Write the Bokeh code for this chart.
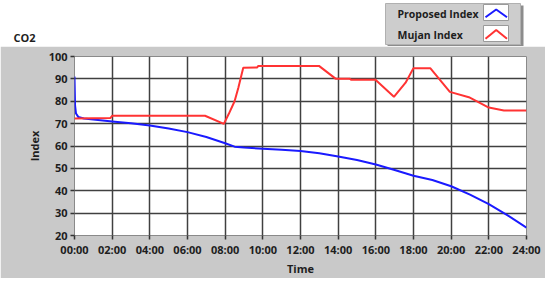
from bokeh.plotting import figure
from bokeh.models import Range1d, FixedTicker
from bokeh.core.properties import value
from bokeh.embed import file_html
from bokeh.resources import INLINE

# ---- data (hours since 00:00, index values) ----
proposed_t = [0, 0.03, 0.08, 0.2, 0.5, 1, 2, 3, 4, 5, 6, 7, 8, 8.5, 9, 10, 11, 12, 13, 14,
              15, 16, 17, 18, 19, 20, 21, 22, 23, 24]
proposed_v = [91, 78, 74.5, 73, 72.3, 71.8, 71, 70.2, 69.2, 67.8, 66.2, 64, 61.2, 59.7, 59.3,
              58.8, 58.3, 57.8, 56.8, 55.3, 53.7, 51.7, 49.3, 46.7, 44.8, 42, 38.3, 34, 29, 23.5]

mujan_t = [0, 1.9, 2.0, 6.93, 7.93, 8.2, 8.5, 8.7, 8.96, 9.7, 9.75, 12.98, 13.86, 14.6, 14.7,
           15.98, 16.96, 17.58, 17.99, 18.9, 19.93, 20.94, 22.0, 22.8, 24]
mujan_v = [72.3, 72.5, 73.5, 73.5, 69.9, 74.5, 80, 86, 95, 95.1, 95.8, 95.8, 90.1, 90.1, 89.6,
           89.6, 82, 88.3, 94.7, 94.7, 84.2, 81.8, 77.2, 75.9, 75.9]

x_ticks = [0, 2, 4, 6, 8, 10, 12, 14, 16, 18, 20, 22, 24]
x_tick_labels = ["00:00", "02:00", "04:00", "06:00", "08:00", "10:00", "12:00",
                 "14:00", "16:00", "18:00", "20:00", "22:00", "24:00"]
y_ticks = [20, 30, 40, 50, 60, 70, 80, 90, 100]

series_names = ["Proposed Index", "Mujan Index"]
series_colors = ["#1a1aff", "#ff3333"]
chart_title = "CO2"

FONT = "Open Sans"
TXT = "#1e1e1e"
PANEL = "#c9c9c9"

# ---- top strip: title + legend (coordinates in page pixels) ----
top = figure(width=550, height=46, output_backend="svg", toolbar_location=None,
             x_range=Range1d(0, 550), y_range=Range1d(46, 0),
             min_border=0, min_border_left=0, min_border_right=0,
             min_border_top=0, min_border_bottom=0)
top.axis.visible = False
top.grid.visible = False
top.outline_line_color = None
top.background_fill_color = "white"
top.border_fill_color = "white"

top.text(x=[13], y=[37], text=[chart_title], text_font=value(FONT), text_font_style="bold",
         text_font_size="11px", text_color=TXT, text_baseline="middle")

# legend box with shadow
top.quad(left=[387], right=[523], top=[5], bottom=[46], fill_color="#8c8c8c", line_color=None)
top.quad(left=[385], right=[520], top=[3], bottom=[44], fill_color="#cdcdcd",
         line_color="#b0b0b0", line_width=1)
top.quad(left=[483, 483], right=[508, 508], top=[4, 25], bottom=[20, 41],
         fill_color="white", line_color="#9a9a9a")
top.text(x=[397, 397], y=[13, 34], text=series_names, text_font=value(FONT),
         text_font_style="bold", text_font_size="10.5px", text_color=TXT, text_baseline="middle")
top.line(x=[485, 495.7, 506.5], y=[16.7, 9, 16.7], line_color=series_colors[0], line_width=2)
top.line(x=[485, 495.7, 506.5], y=[38.3, 29.5, 38.3], line_color=series_colors[1], line_width=2)

# ---- main chart ----
p = figure(width=545, height=232, output_backend="svg", toolbar_location=None,
           x_range=Range1d(0, 24), y_range=Range1d(20, 100),
           min_border_left=74, min_border_right=19, min_border_top=10, min_border_bottom=36)
p.border_fill_color = PANEL
p.background_fill_color = "white"
p.outline_line_color = "#8a8a8a"
p.outline_line_width = 1

p.line(proposed_t, proposed_v, line_color=series_colors[0], line_width=2)
p.line(mujan_t, mujan_v, line_color=series_colors[1], line_width=2)

p.xaxis.ticker = FixedTicker(ticks=x_ticks)
p.xaxis.major_label_overrides = {t: l for t, l in zip(x_ticks, x_tick_labels)}
p.yaxis.ticker = FixedTicker(ticks=y_ticks)
p.xaxis.axis_label = "Time"
p.yaxis.axis_label = "Index"

for ax in (p.xaxis, p.yaxis):
    ax.axis_line_color = None
    ax.major_tick_line_color = "#333333"
    ax.major_tick_line_width = 1.5
    ax.major_tick_in = 0
    ax.major_tick_out = 4
    ax.minor_tick_line_color = None
    ax.major_label_text_font = FONT
    ax.major_label_text_font_style = "bold"
    ax.major_label_text_font_size = "11px"
    ax.major_label_text_color = TXT
    ax.axis_label_text_font = FONT
    ax.axis_label_text_font_style = "bold"
    ax.axis_label_text_font_size = "11px"
    ax.axis_label_text_color = TXT
p.xaxis.major_label_standoff = 2
p.xaxis.axis_label_standoff = 1
p.yaxis.major_label_standoff = 3
p.yaxis.axis_label_standoff = 4

p.grid.grid_line_color = "#404040"
p.grid.grid_line_width = 1.5

open("out.html", "w").write(file_html([top, p], INLINE))
